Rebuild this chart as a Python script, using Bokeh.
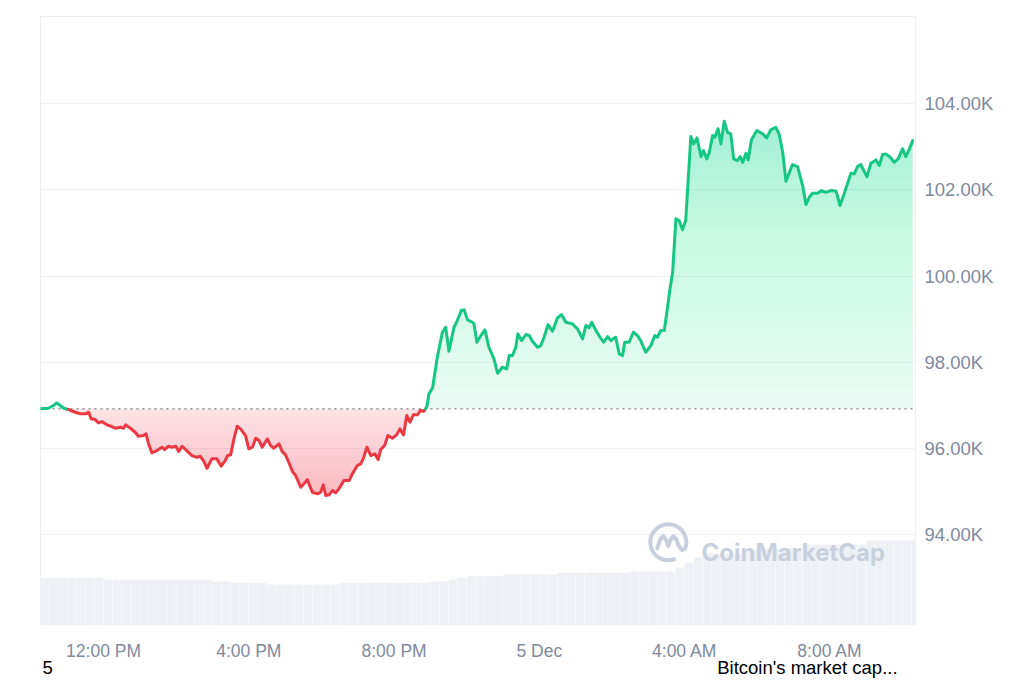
import numpy as np
from bokeh.plotting import figure
from bokeh.models import Range1d, FixedTicker, CustomJSTickFormatter, Label, LinearAxis
from bokeh.embed import file_html
from bokeh.resources import INLINE

# ---------------- data ----------------
# hours since 4 Dec 00:00 (local), Bitcoin price in USD
times = [10.27, 10.48, 10.62, 10.71, 10.81, 10.90, 11.04, 11.22, 11.36, 11.50,
         11.59, 11.66, 11.77, 11.86, 11.95, 12.09, 12.23, 12.34, 12.46, 12.55,
         12.61, 12.74, 12.87, 12.96, 13.10, 13.17, 13.24, 13.33, 13.47, 13.61,
         13.68, 13.79, 13.88, 13.99, 14.07, 14.16, 14.29, 14.43, 14.57, 14.66,
         14.75, 14.85, 14.98, 15.12, 15.24, 15.35, 15.42, 15.50, 15.59, 15.68,
         15.77, 15.91, 16.00, 16.10, 16.19, 16.28, 16.37, 16.51, 16.60, 16.69,
         16.83, 16.92, 17.01, 17.10, 17.20, 17.29, 17.43, 17.52, 17.61, 17.75,
         17.89, 17.98, 18.05, 18.12, 18.21, 18.30, 18.39, 18.48, 18.62, 18.76,
         18.85, 18.99, 19.08, 19.15, 19.25, 19.36, 19.47, 19.56, 19.63, 19.74,
         19.83, 19.95, 20.07, 20.16, 20.26, 20.35, 20.44, 20.53, 20.64, 20.73,
         20.82, 20.90, 20.96, 21.06, 21.19, 21.33, 21.42, 21.51, 21.65, 21.74,
         21.85, 21.93, 22.02, 22.16, 22.20, 22.28, 22.39, 22.50, 22.61, 22.75,
         22.85, 22.98, 23.10, 23.17, 23.26, 23.35, 23.41, 23.51, 23.63, 23.72,
         23.81, 23.95, 24.04, 24.13, 24.24, 24.36, 24.50, 24.61, 24.73, 24.91,
         25.05, 25.19, 25.28, 25.37, 25.44, 25.55, 25.64, 25.77, 25.88, 25.97,
         26.10, 26.20, 26.29, 26.35, 26.47, 26.59, 26.70, 26.79, 26.93, 27.07,
         27.18, 27.25, 27.34, 27.44, 27.53, 27.59, 27.67, 27.76, 27.85, 27.94,
         28.03, 28.17, 28.25, 28.34, 28.45, 28.52, 28.61, 28.68, 28.77, 28.83,
         28.92, 29.00, 29.09, 29.18, 29.27, 29.35, 29.46, 29.53, 29.60, 29.69,
         29.75, 29.84, 29.99, 30.15, 30.26, 30.37, 30.51, 30.60, 30.70, 30.79,
         30.97, 31.11, 31.25, 31.34, 31.43, 31.52, 31.66, 31.77, 31.89, 32.03,
         32.17, 32.28, 32.39, 32.58, 32.67, 32.76, 32.85, 33.02, 33.13, 33.27,
         33.36, 33.45, 33.54, 33.66, 33.77, 33.88, 34.00, 34.09, 34.19, 34.28]

prices = [96915, 96929, 96992, 97054, 96992, 96929, 96899, 96836, 96799, 96799,
          96836, 96683, 96666, 96590, 96620, 96543, 96504, 96464, 96487, 96464,
          96543, 96464, 96371, 96278, 96295, 96334, 96102, 95893, 95946, 96023,
          95969, 96046, 96023, 96046, 95923, 96046, 95946, 95830, 95791, 95814,
          95714, 95535, 95753, 95753, 95582, 95714, 95830, 95846, 96218, 96511,
          96450, 96295, 95986, 96023, 96232, 96178, 96023, 96218, 96062, 96000,
          96102, 95923, 95846, 95674, 95458, 95365, 95094, 95173, 95272, 94977,
          94940, 94977, 95149, 94901, 94917, 95017, 94964, 95056, 95249, 95249,
          95405, 95598, 95637, 95753, 96023, 95830, 95869, 95737, 95969, 96062,
          96295, 96232, 96311, 96450, 96311, 96759, 96604, 96775, 96775, 96880,
          96860, 96960, 97263, 97403, 98114, 98694, 98810, 98253, 98810, 98966,
          99198, 99215, 98982, 98927, 98889, 98462, 98618, 98750, 98346, 98076,
          97742, 97881, 97844, 98153, 98153, 98346, 98657, 98501, 98641, 98618,
          98485, 98346, 98385, 98578, 98873, 98718, 99029, 99105, 98927, 98889,
          98773, 98541, 98850, 98796, 98927, 98750, 98618, 98462, 98594, 98501,
          98578, 98192, 98153, 98462, 98462, 98694, 98618, 98501, 98230, 98385,
          98618, 98578, 98734, 98734, 99275, 99663, 100088, 101329, 101289, 101073,
          101289, 103240, 103071, 103210, 102776, 102915, 102722, 102876, 103264, 103224,
          103419, 103071, 103596, 103340, 103303, 102722, 102683, 102776, 102643, 102852,
          102699, 103164, 103380, 103303, 103210, 103396, 103456, 103303, 102876, 102202,
          102590, 102543, 102102, 101661, 101830, 101923, 101923, 101986, 101946, 101986,
          101970, 101638, 101909, 102388, 102374, 102543, 102590, 102311, 102620, 102699,
          102567, 102822, 102838, 102760, 102643, 102722, 102955, 102776, 102955, 103147]

# 15-minute volume bars (billions USD)
vol_start = 10.25
vol_step = 0.25
volumes = ([76.8] * 7 + [73.5] * 12 + [70.7] * 2 + [68.6] * 4 + [65.8] * 8 +
           [68.6] * 10 + [71.2] * 2 + [74.0] + [76.8] + [79.8] * 4 + [82.2] * 6 +
           [85.0] * 8 + [87.2] * 5 + [93.8] + [102.0] + [110.0] + [116.8] * 5 +
           [125.0] * 6 + [131.6] * 7 + [138.2] * 6)

tick_hours = [12, 16, 20, 24, 28, 32]
tick_labels = ["12:00 PM", "4:00 PM", "8:00 PM", "5 Dec", "4:00 AM", "8:00 AM"]
price_ticks = [94000, 96000, 98000, 100000, 102000, 104000]

# texts printed under the chart (position in hours, text)
foot_hours = [10.462, 31.38]
foot_texts = ["5", "Bitcoin's market cap..."]

# ---------------- styling ----------------
GREEN = "#16c784"
RED = "#ea3943"
AXIS_TXT = "#808a9d"
GRID = "#eff1f4"
FONT = "Liberation Sans"

t = np.array(times, dtype=float)
pr = np.array(prices, dtype=float)
base = pr[0]

p = figure(width=1024, height=683, output_backend="svg", toolbar_location=None,
           tools="", x_range=Range1d(10.264, 34.357), y_range=Range1d(91905, 106030),
           y_axis_location="right", min_border_left=40, min_border_right=109,
           min_border_top=16, min_border_bottom=59)
p.background_fill_color = "white"
p.border_fill_color = "white"
p.outline_line_color = "#eceef2"
p.outline_line_width = 1
p.xgrid.visible = False
p.ygrid.grid_line_color = GRID
p.ygrid.grid_line_width = 1

p.extra_y_ranges = {"vol": Range1d(0, 1000)}


def plain_axis(ax, size, color, standoff):
    ax.axis_line_color = None
    ax.major_tick_line_color = None
    ax.minor_tick_line_color = None
    ax.major_tick_out = 0
    ax.major_tick_in = 0
    ax.minor_tick_out = 0
    ax.minor_tick_in = 0
    ax.major_label_standoff = standoff
    ax.major_label_text_color = color
    ax.major_label_text_font = FONT
    ax.major_label_text_font_size = size


# y axis
ya = p.yaxis[0]
ya.ticker = FixedTicker(ticks=price_ticks)
ya.formatter = CustomJSTickFormatter(code="return (tick/1000).toFixed(2) + 'K';")
plain_axis(ya, "18.5px", AXIS_TXT, 9)

# x axis
xa = p.xaxis[0]
xa.ticker = FixedTicker(ticks=tick_hours)
lookup = "{" + ",".join(f'"{h}":"{l}"' for h, l in zip(tick_hours, tick_labels)) + "}"
xa.formatter = CustomJSTickFormatter(code=f"const m = {lookup}; return m[String(tick)] || '';")
plain_axis(xa, "17.5px", AXIS_TXT, 16)

# footer texts as a second, bare axis
foot_lookup = "{" + ",".join(f'"{h}":"{l}"' for h, l in zip(foot_hours, foot_texts)) + "}"
fa = LinearAxis(ticker=FixedTicker(ticks=foot_hours),
                formatter=CustomJSTickFormatter(code=f"const m = {foot_lookup}; return m[String(tick)] || '';"))
plain_axis(fa, "18.5px", "black", -7)
p.add_layout(fa, "below")

# volume bars
vol_x = [vol_start + vol_step * (i + 0.5) for i in range(len(volumes))]
p.vbar(x=vol_x, top=volumes, bottom=0, width=vol_step, y_range_name="vol",
       fill_color="#edf0f4", line_color="white", line_alpha=0.55, line_width=0.6)

# gradient fills (stacked translucent layers)
xf = np.linspace(t[0], t[-1], 1800)
pf = np.interp(xf, t, pr)


def layer_alphas(targets):
    out = []
    prev = 0.0
    for A in targets:
        out.append(1 - (1 - A) / (1 - prev))
        prev = A
    return out


pmax = pr.max()
Ng = 30
g_levels = base + (pmax - base) * np.arange(Ng) / Ng
g_targets = 0.09 + (0.31 - 0.09) * np.arange(Ng) / (Ng - 1)
for L, a in zip(g_levels, layer_alphas(g_targets)):
    y2 = np.maximum(pf, L)
    p.varea(x=xf, y1=np.full_like(xf, L), y2=y2, fill_color=GREEN, fill_alpha=a)

pmin = pr.min()
Nr = 22
r_levels = base - (base - pmin) * np.arange(Nr) / Nr
r_targets = 0.14 + (0.31 - 0.14) * np.arange(Nr) / (Nr - 1)
for L, a in zip(r_levels, layer_alphas(r_targets)):
    y1 = np.minimum(pf, L)
    p.varea(x=xf, y1=y1, y2=np.full_like(xf, L), fill_color=RED, fill_alpha=a)

# baseline (opening price) dotted line
p.line(x=[p.x_range.start, p.x_range.end], y=[base, base], line_color="#8e95a2",
       line_width=1.5, line_dash="2 4")

# price line, split into green (above open) and red (below open)
tt, pp = [t[0]], [pr[0]]
for i in range(1, len(t)):
    a0, b0 = pr[i - 1] - base, pr[i] - base
    if a0 * b0 < 0:
        f = a0 / (a0 - b0)
        tt.append(t[i - 1] + f * (t[i] - t[i - 1]))
        pp.append(base)
    tt.append(t[i])
    pp.append(pr[i])
tt = np.array(tt)
pp = np.array(pp)
green_y = np.where(pp >= base, pp, np.nan)
red_y = np.where(pp <= base, pp, np.nan)
p.line(tt, red_y, line_color=RED, line_width=3, line_join="round", line_cap="round")
p.line(tt, green_y, line_color=GREEN, line_width=3, line_join="round", line_cap="round")

# watermark
WM = "#c9d0dd"
cx, cy = 27.55, 93816
px_h, px_usd = 1 / 36.32, 23.23
p.arc(x=[cx], y=[cy], radius=18, radius_units="screen", start_angle=-0.45,
      end_angle=-1.15, line_color=WM, line_width=4)
wave = [(-11, 6), (-8, -3), (-5, -6), (-2, -2), (0, 4), (2, -2), (5, -6), (8, -3), (10, 3), (14, 8)]
p.line(x=[cx + dx * px_h for dx, dy in wave], y=[cy - dy * px_usd for dx, dy in wave],
       line_color=WM, line_width=4, line_join="round", line_cap="round")
p.add_layout(Label(x=661, y=72, x_units="screen", y_units="screen", text="CoinMarketCap",
                   text_font="Inter", text_font_style="bold", text_font_size="24px",
                   text_color=WM, text_baseline="alphabetic"))

open("out.html", "w").write(file_html(p, INLINE))
